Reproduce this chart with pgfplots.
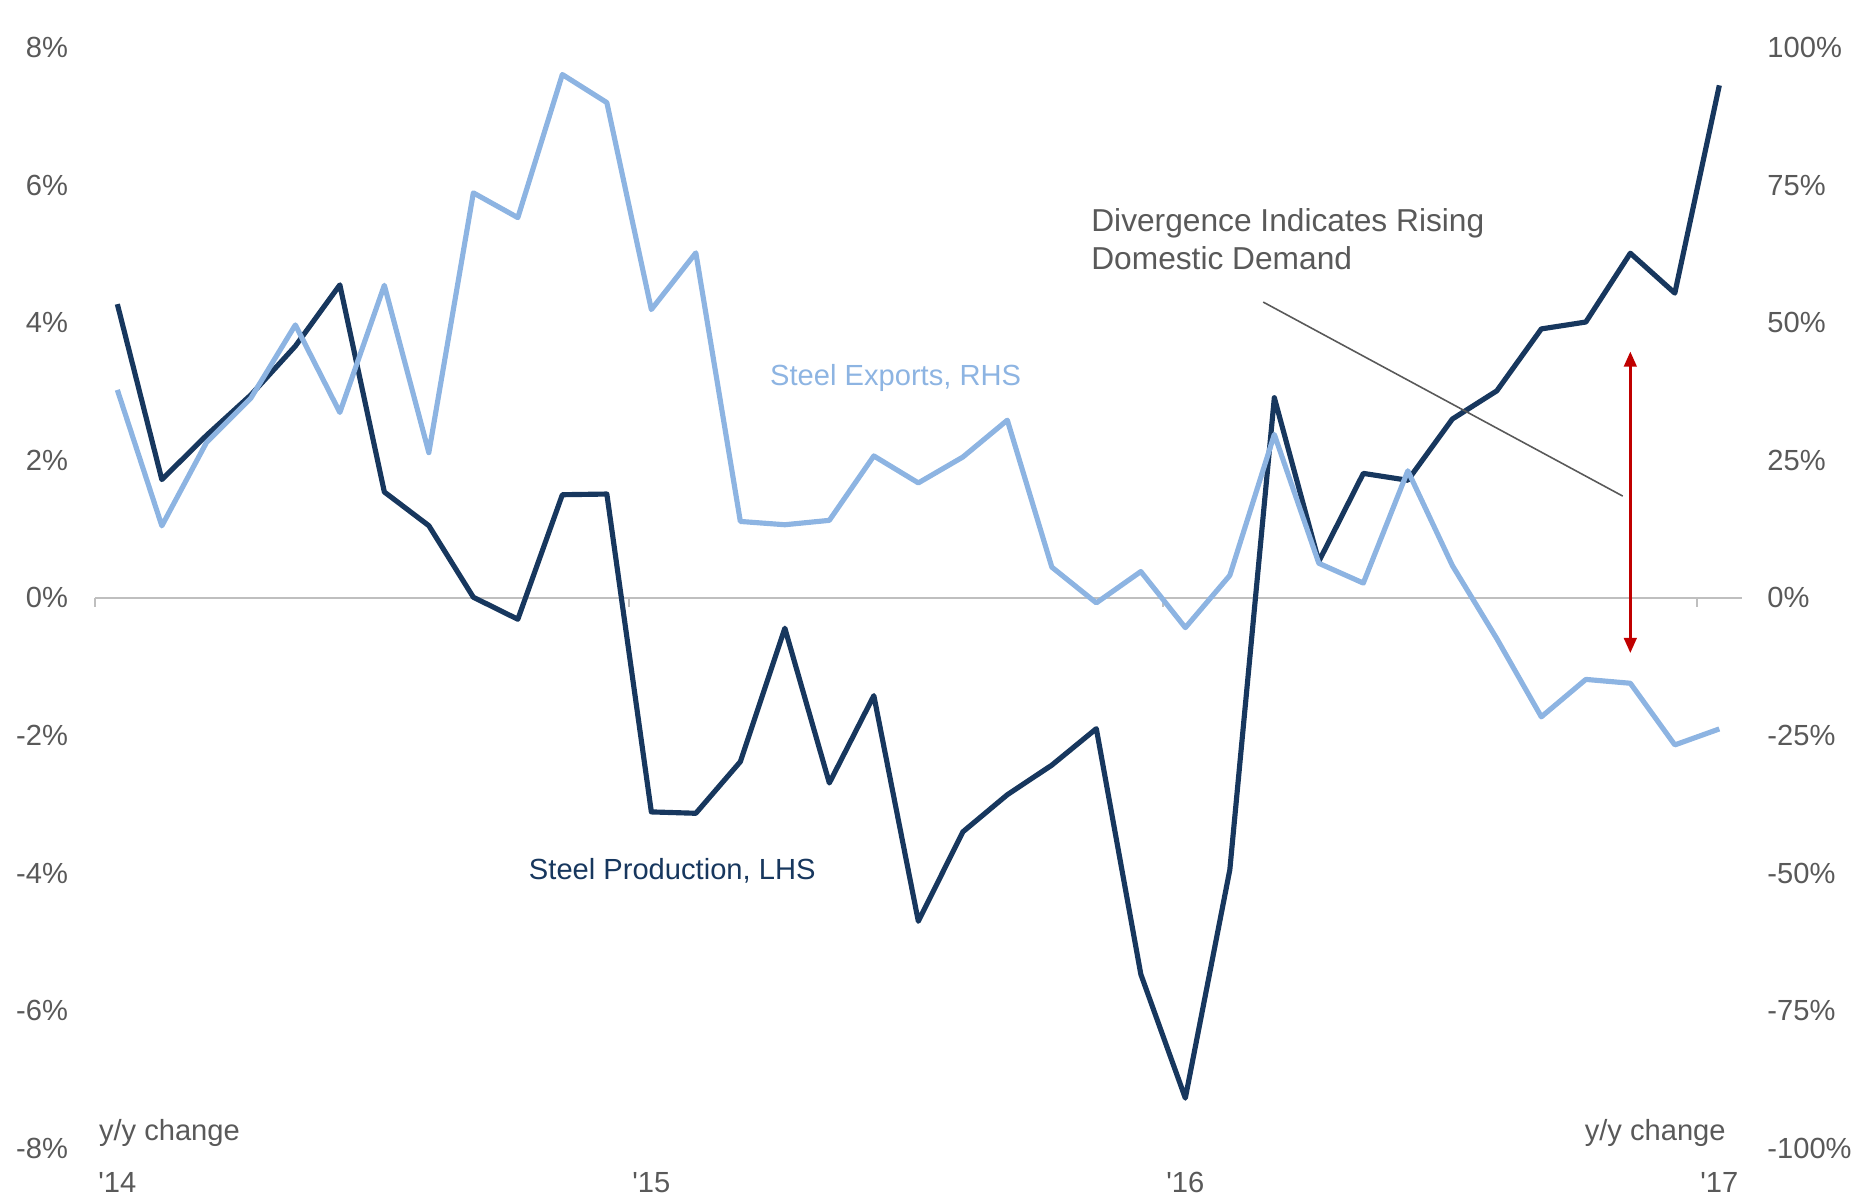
\documentclass[border=0pt]{standalone}
\usepackage{fontspec}
\setmainfont{Liberation Sans}
\newfontfamily\lib{Liberation Sans}
\usepackage{pgfplots}
\usepackage{pgfplotstable}
\pgfplotsset{compat=1.18}
\usetikzlibrary{arrows.meta}

\definecolor{prodblue}{RGB}{23,55,94}
\definecolor{expblue}{RGB}{141,180,226}
\definecolor{txtgrey}{RGB}{89,89,89}
\definecolor{zerogrey}{RGB}{191,191,191}
\definecolor{arrowred}{RGB}{192,0,0}

% month index (0 = Jan '14), production y/y % (LHS), exports y/y % (RHS)
\pgfplotstableread{
m  prod   exp
0   4.27  37.8
1   1.72  13.1
2   2.36  28.2
3   2.95  36.3
4   3.66  49.6
5   4.55  33.7
6   1.54  56.8
7   1.05  26.4
8   0.01  73.6
9  -0.31  69.1
10  1.50  95.1
11  1.51  90.0
12 -3.11  52.4
13 -3.13  62.7
14 -2.38  13.9
15 -0.44  13.3
16 -2.69  14.1
17 -1.42  25.8
18 -4.70  20.9
19 -3.40  25.6
20 -2.86  32.3
21 -2.43   5.6
22 -1.90  -0.9
23 -5.47   4.8
24 -7.27  -5.4
25 -3.95   4.1
26  2.91  29.7
27  0.53   6.3
28  1.81   2.7
29  1.71  23.1
30  2.60   5.9
31  3.01  -7.4
32  3.91 -21.6
33  4.01 -14.8
34  5.01 -15.5
35  4.43 -26.7
36  7.45 -23.8
}\steel

\newcommand\lbl{\lib\fontsize{7.35}{8.8}\selectfont}

\pgfplotsset{
  base/.style={
    width=415.5pt, height=277.8pt, scale only axis,
    xmin=-0.5, xmax=36.5,
    axis line style={draw=none},
    tick style={draw=none},
    clip=false,
    ticklabel style={font=\lbl, text=txtgrey},
  }
}

\begin{document}
\begin{tikzpicture}
\begin{axis}[base,
    ymin=-8, ymax=8,
    ytick={-8,-6,-4,-2,0,2,4,6,8},
    yticklabels={-8\%,-6\%,-4\%,-2\%,0\%,2\%,4\%,6\%,8\%},
    yticklabel style={xshift=-3.3pt},
    xtick={0,12,24,36},
    xticklabels={'14,'15,'16,'17},
    xticklabel style={yshift=-2.5pt},
]
\draw[zerogrey, line width=0.6pt] (axis cs:-0.5,0) -- (axis cs:36.5,0);
\pgfplotsinvokeforeach{-0.5,11.5,23.5,35.5}{
  \draw[zerogrey, line width=0.6pt] (axis cs:#1,0) -- ([yshift=-2.2pt]axis cs:#1,0);
}
\addplot[prodblue, line width=1.3pt, no markers, line join=round] table[x=m, y=prod] {\steel};

\draw[txtgrey, line width=0.4pt] (axis cs:25.75,4.30) -- (axis cs:33.83,1.48);
\draw[arrowred, line width=0.6pt, {Triangle[width=3.2pt,length=3.8pt]}-{Triangle[width=3.2pt,length=3.8pt]}]
  (axis cs:34,3.58) -- (axis cs:34,-0.80);

\node[font=\lbl, text=expblue] at (axis cs:17.49,3.20) {Steel Exports, RHS};
\node[font=\lbl, text=prodblue] at (axis cs:12.47,-3.97) {Steel Production, LHS};
\node[font=\lib\fontsize{8}{9.6}\selectfont, text=txtgrey, anchor=west, align=left, inner sep=0pt]
  at (axis cs:21.87,5.22) {Divergence Indicates Rising\\Domestic Demand};
\node[font=\lbl, text=txtgrey, anchor=west, inner sep=0pt]
  at (axis cs:-0.43,-7.77) {y/y change};
\node[font=\lbl, text=txtgrey, anchor=east, inner sep=0pt]
  at (axis cs:36.16,-7.77) {y/y change};
\end{axis}

\begin{axis}[base,
    ymin=-100, ymax=100,
    ytick={-100,-75,-50,-25,0,25,50,75,100},
    yticklabels={-100\%,-75\%,-50\%,-25\%,0\%,25\%,50\%,75\%,100\%},
    yticklabel pos=right,
    yticklabel style={xshift=3.0pt},
    xtick=\empty,
]
\addplot[expblue, line width=1.3pt, no markers, line join=round] table[x=m, y=exp] {\steel};
\end{axis}

\pgfresetboundingbox
\useasboundingbox (-24pt,-12pt) rectangle (446.4pt,289.8pt);
\end{tikzpicture}
\end{document}
